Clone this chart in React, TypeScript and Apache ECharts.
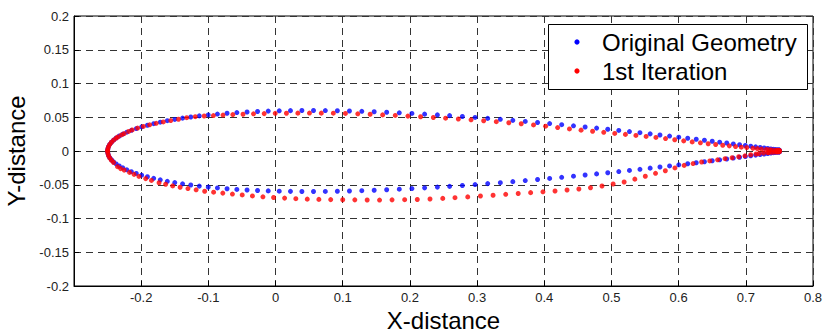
import React, { useEffect, useRef } from "react";
import * as echarts from "echarts";

// Station x positions of the original geometry
const originalX = [
  -0.25, -0.2496, -0.2486, -0.2468, -0.2443, -0.2411, -0.2372, -0.2326, -0.2273, -0.2213,
  -0.2146, -0.2073, -0.1993, -0.1907, -0.1814, -0.1716, -0.1611, -0.15, -0.1384, -0.1262,
  -0.1135, -0.1002, -0.0865, -0.0722, -0.0576, -0.0424, -0.0268, -0.0109, 0.0055, 0.0222,
  0.0392, 0.0565, 0.0741, 0.092, 0.11, 0.1284, 0.1468, 0.1654, 0.1842, 0.203,
  0.2219, 0.2409, 0.2591, 0.2781, 0.297, 0.3158, 0.3346, 0.3532, 0.3717, 0.39,
  0.408, 0.4259, 0.4435, 0.4608, 0.4779, 0.4945, 0.5109, 0.5268, 0.5424, 0.5576,
  0.5722, 0.5865, 0.6002, 0.6135, 0.6262, 0.6384, 0.65, 0.6611, 0.6716, 0.6814,
  0.6907, 0.6993, 0.7073, 0.7146, 0.7213, 0.7273, 0.7326, 0.7372, 0.7411, 0.7443,
  0.7468, 0.7486, 0.7496, 0.75,
];

const originalUpperY = [
  0, 0.0034, 0.0066, 0.0099, 0.013, 0.0161, 0.0192, 0.0222, 0.025, 0.0279,
  0.0306, 0.0332, 0.0358, 0.0382, 0.0405, 0.0427, 0.0449, 0.0468, 0.0487, 0.0504,
  0.052, 0.0534, 0.0547, 0.0559, 0.0569, 0.0578, 0.0585, 0.0591, 0.0595, 0.0598,
  0.06, 0.06, 0.0599, 0.0596, 0.0593, 0.0588, 0.0582, 0.0574, 0.0566, 0.0557,
  0.0546, 0.0535, 0.0524, 0.0511, 0.0497, 0.0483, 0.0469, 0.0454, 0.0438, 0.0422,
  0.0406, 0.039, 0.0373, 0.0356, 0.0339, 0.0322, 0.0305, 0.0288, 0.0271, 0.0254,
  0.0237, 0.0221, 0.0205, 0.0189, 0.0174, 0.0159, 0.0145, 0.0131, 0.0118, 0.0105,
  0.0093, 0.0082, 0.0071, 0.0061, 0.0052, 0.0044, 0.0037, 0.003, 0.0025, 0.0021,
  0.0017, 0.0015, 0.0013, 0.0013,
];

const originalLowerY = [
  0, -0.0034, -0.0066, -0.0099, -0.013, -0.0161, -0.0192, -0.0222, -0.025, -0.0279,
  -0.0306, -0.0332, -0.0358, -0.0382, -0.0405, -0.0427, -0.0449, -0.0468, -0.0487, -0.0504,
  -0.052, -0.0534, -0.0547, -0.0559, -0.0569, -0.0578, -0.0585, -0.0591, -0.0595, -0.0598,
  -0.06, -0.06, -0.0599, -0.0596, -0.0593, -0.0588, -0.0582, -0.0574, -0.0566, -0.0557,
  -0.0546, -0.0535, -0.0524, -0.0511, -0.0497, -0.0483, -0.0469, -0.0454, -0.0438, -0.0422,
  -0.0406, -0.039, -0.0373, -0.0356, -0.0339, -0.0322, -0.0305, -0.0288, -0.0271, -0.0254,
  -0.0237, -0.0221, -0.0205, -0.0189, -0.0174, -0.0159, -0.0145, -0.0131, -0.0118, -0.0105,
  -0.0093, -0.0082, -0.0071, -0.0061, -0.0052, -0.0044, -0.0037, -0.003, -0.0025, -0.0021,
  -0.0017, -0.0015, -0.0013, -0.0013,
];

const iterationUpperX = [
  -0.25, -0.2496, -0.2486, -0.2468, -0.2443, -0.2411, -0.2372, -0.2346, -0.2293, -0.2253,
  -0.2186, -0.2133, -0.2053, -0.1967, -0.1874, -0.1776, -0.1671, -0.156, -0.1444, -0.1322,
  -0.1195, -0.1062, -0.0925, -0.0782, -0.0636, -0.0484, -0.0328, -0.0169, -0.0005, 0.0162,
  0.0332, 0.0505, 0.0681, 0.086, 0.104, 0.1224, 0.1408, 0.1594, 0.1782, 0.197,
  0.2159, 0.2349, 0.2531, 0.2721, 0.291, 0.3098, 0.3286, 0.3472, 0.3657, 0.384,
  0.402, 0.4199, 0.4375, 0.4548, 0.4719, 0.4885, 0.5049, 0.5208, 0.5364, 0.5516,
  0.5662, 0.5805, 0.5942, 0.6075, 0.6202, 0.6324, 0.644, 0.6551, 0.6656, 0.6754,
  0.6847, 0.6933, 0.7013, 0.7106, 0.7173, 0.7233, 0.7306, 0.7352, 0.7391, 0.7443,
  0.7468, 0.7486, 0.7496, 0.75,
];

const iterationUpperY = [
  0, 0.0033, 0.0066, 0.0098, 0.013, 0.0161, 0.0191, 0.0208, 0.0238, 0.0258,
  0.029, 0.0312, 0.034, 0.0364, 0.0388, 0.041, 0.0431, 0.0451, 0.047, 0.0494,
  0.0508, 0.0518, 0.0525, 0.0532, 0.0539, 0.0545, 0.0551, 0.0554, 0.0558, 0.0559,
  0.0561, 0.0562, 0.0561, 0.056, 0.0557, 0.0551, 0.0544, 0.0535, 0.0527, 0.0517,
  0.0507, 0.0496, 0.0486, 0.0474, 0.0462, 0.0448, 0.0434, 0.0419, 0.0404, 0.0386,
  0.0368, 0.0347, 0.0327, 0.0309, 0.0292, 0.0277, 0.026, 0.0246, 0.0231, 0.0216,
  0.0201, 0.0184, 0.0167, 0.015, 0.0135, 0.0121, 0.0107, 0.0096, 0.0085, 0.0076,
  0.0066, 0.0057, 0.005, 0.0041, 0.0035, 0.0029, 0.0023, 0.0019, 0.0016, 0.0012,
  0.001, 0.0009, 0.0008, 0.0008,
];

const iterationLowerX = [
  -0.25, -0.2496, -0.2486, -0.2468, -0.2443, -0.2411, -0.2352, -0.2306, -0.2253, -0.2173,
  -0.2106, -0.2033, -0.1933, -0.1847, -0.1734, -0.1636, -0.1531, -0.142, -0.1304, -0.1182,
  -0.1055, -0.0922, -0.0785, -0.0642, -0.0496, -0.0344, -0.0188, -0.0029, 0.0135, 0.0302,
  0.0472, 0.0645, 0.0821, 0.1, 0.118, 0.1364, 0.1548, 0.1734, 0.1922, 0.211,
  0.2299, 0.2489, 0.2671, 0.2861, 0.305, 0.3238, 0.3426, 0.3612, 0.3797, 0.398,
  0.416, 0.4339, 0.4515, 0.4688, 0.4859, 0.5025, 0.5189, 0.5348, 0.5504, 0.5656,
  0.5802, 0.5945, 0.6082, 0.6215, 0.6342, 0.6464, 0.658, 0.6691, 0.6796, 0.6894,
  0.6987, 0.7073, 0.7153, 0.7196, 0.7263, 0.7323, 0.7346, 0.7392, 0.7431, 0.7463,
  0.7468, 0.7486, 0.7496, 0.75,
];

const iterationLowerY = [
  0, -0.0035, -0.007, -0.0104, -0.0137, -0.017, -0.0232, -0.0261, -0.0283, -0.0317,
  -0.0346, -0.0377, -0.0409, -0.0436, -0.047, -0.0493, -0.0517, -0.0537, -0.0557, -0.0575,
  -0.0596, -0.061, -0.0624, -0.0638, -0.0651, -0.0666, -0.0679, -0.0689, -0.0698, -0.0706,
  -0.0713, -0.0717, -0.072, -0.0722, -0.0724, -0.0726, -0.0727, -0.0724, -0.0721, -0.0718,
  -0.0711, -0.0702, -0.0692, -0.068, -0.0667, -0.0656, -0.0642, -0.063, -0.0617, -0.0605,
  -0.0593, -0.0578, -0.0563, -0.0545, -0.0519, -0.0489, -0.0459, -0.0417, -0.0374, -0.0331,
  -0.0293, -0.0251, -0.0213, -0.0186, -0.0163, -0.0147, -0.0131, -0.0114, -0.01, -0.0085,
  -0.0071, -0.0056, -0.0044, -0.0039, -0.003, -0.0024, -0.0022, -0.0019, -0.0016, -0.0013,
  -0.0012, -0.0011, -0.001, -0.001,
];

const seriesNames = ["Original Geometry", "1st Iteration"];
const seriesColors = ["#0000ff", "#ff0000"];

function pairs(xs: number[], ys: number[]) {
  return xs.map((x, i) => [x, ys[i]]);
}

export default function App() {
  const ref = useRef<HTMLDivElement>(null);
  useEffect(() => {
    const chart = echarts.init(ref.current!, null, { renderer: "svg" });
    const font = "'Liberation Sans', Arial, sans-serif";
    const legendRows = [42, 71];
    chart.setOption({
      animation: false,
      backgroundColor: "#ffffff",
      grid: {
        left: 74,
        right: 10,
        top: 16,
        bottom: 47,
        containLabel: false,
        outerBoundsMode: "none",
        show: true,
        borderColor: "#000",
        borderWidth: 1,
        backgroundColor: "transparent",
      },
      graphic: [
        {
          type: "rect",
          z: 100,
          shape: { x: 548.5, y: 24.5, width: 259, height: 65 },
          style: { fill: "#fff", stroke: "#000", lineWidth: 1 },
        },
        ...seriesNames.map((name, i) => ({
          type: "group",
          z: 101,
          children: [
            {
              type: "circle",
              z: 101,
              shape: { cx: 577, cy: legendRows[i], r: 2.6 },
              style: { fill: seriesColors[i] },
            },
            {
              type: "text",
              z: 101,
              x: 602,
              y: legendRows[i],
              style: {
                text: name,
                fill: "#000",
                font: `24px ${font}`,
                textAlign: "left",
                textVerticalAlign: "middle",
              },
            },
          ],
        })),
      ],
      xAxis: {
        type: "value",
        min: -0.3,
        max: 0.8,
        interval: 0.1,
        name: "X-distance",
        nameLocation: "middle",
        nameGap: 20,
        nameTextStyle: { fontSize: 24, lineHeight: 24, color: "#000", fontFamily: font },
        axisLine: { show: true, onZero: false, lineStyle: { color: "#000", width: 1 } },
        axisTick: { show: true, inside: true, length: 5, lineStyle: { color: "#000" } },
        axisLabel: {
          margin: 5,
          fontSize: 13,
          color: "#222",
          fontFamily: font,
          formatter: (v: number) =>
            Math.abs(v + 0.3) < 1e-9 ? "" : String(Math.round(v * 100) / 100),
        },
        splitLine: { show: true, lineStyle: { type: [7, 5], color: "#333", width: 1 } },
      },
      yAxis: {
        type: "value",
        min: -0.2,
        max: 0.2,
        interval: 0.05,
        name: "Y-distance",
        nameLocation: "middle",
        nameGap: 41,
        nameTextStyle: { fontSize: 24, lineHeight: 24, color: "#000", fontFamily: font },
        axisLine: { show: true, onZero: false, lineStyle: { color: "#000", width: 1 } },
        axisTick: { show: true, inside: true, length: 5, lineStyle: { color: "#000" } },
        axisLabel: {
          margin: 5,
          fontSize: 13,
          color: "#222",
          fontFamily: font,
          formatter: (v: number) => String(Math.round(v * 1000) / 1000),
        },
        splitLine: { show: true, lineStyle: { type: [7, 5], color: "#333", width: 1 } },
      },
      series: [
        {
          name: seriesNames[0],
          type: "scatter",
          symbol: "circle",
          symbolSize: 5,
          itemStyle: { color: seriesColors[0] },
          data: [...pairs(originalX, originalUpperY), ...pairs(originalX, originalLowerY)],
        },
        {
          name: seriesNames[1],
          type: "scatter",
          symbol: "circle",
          symbolSize: 5,
          itemStyle: { color: seriesColors[1] },
          data: [
            ...pairs(iterationUpperX, iterationUpperY),
            ...pairs(iterationLowerX, iterationLowerY),
          ],
        },
      ],
    });
    return () => chart.dispose();
  }, []);
  return (
    <div
      ref={ref}
      style={{ position: "absolute", left: 0, top: 0, width: 823, height: 333 }}
    />
  );
}
